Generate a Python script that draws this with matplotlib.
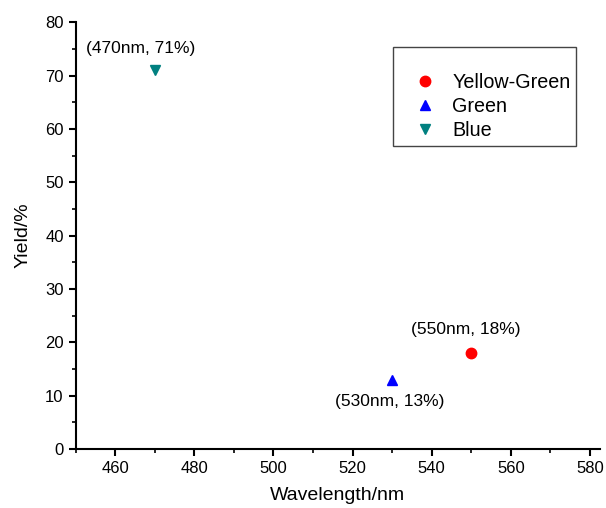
import matplotlib

matplotlib.use("Agg")
import matplotlib.pyplot as plt

# data
series_names = ["Yellow-Green", "Green", "Blue"]
wavelengths = [550, 530, 470]
yields = [18, 13, 71]
marker_styles = ["o", "^", "v"]
marker_colors = ["#ff0000", "#0000ff", "#008080"]
point_labels = ["(550nm, 18%)", "(530nm, 13%)", "(470nm, 71%)"]
label_offsets = [(-6, 24), (-2, -22), (-14, 22)]  # pixels

plt.rcParams.update(
    {
        "font.family": ["Liberation Sans", "DejaVu Sans"],
        "axes.linewidth": 1.5,
        "xtick.major.width": 1.5,
        "ytick.major.width": 1.5,
        "xtick.minor.width": 1.2,
        "ytick.minor.width": 1.2,
        "xtick.major.size": 5,
        "ytick.major.size": 5,
        "xtick.minor.size": 3,
        "ytick.minor.size": 3,
        "xtick.direction": "out",
        "ytick.direction": "out",
    }
)

fig = plt.figure(figsize=(6.06, 5.08), dpi=100)
ax = fig.add_axes([0.1246, 0.1161, 0.8654, 0.8400])

for name, x, y, m, c, lab, off in zip(
    series_names, wavelengths, yields, marker_styles, marker_colors, point_labels, label_offsets
):
    ax.plot([x], [y], linestyle="none", marker=m, color=c, markersize=7.5, label=name)
    ax.annotate(
        lab,
        xy=(x, y),
        xytext=off,
        textcoords="offset pixels",
        ha="center",
        va="center",
        fontsize=12.5,
    )

ax.set_xlim(450, 582.5)
ax.set_ylim(0, 80)
ax.set_xticks(range(460, 581, 20))
ax.set_xticks(range(450, 581, 10), minor=True)
ax.set_yticks(range(0, 81, 10))
ax.set_yticks(range(0, 81, 5), minor=True)
ax.tick_params(labelsize=12)
ax.spines["top"].set_visible(False)
ax.spines["right"].set_visible(False)

ax.set_xlabel("Wavelength/nm", fontsize=14, labelpad=8)
ax.set_ylabel("Yield/%", fontsize=14, labelpad=10)

leg = ax.legend(
    loc="upper left",
    bbox_to_anchor=(393 / 606, 1 - 47 / 508),
    bbox_transform=fig.transFigure,
    fontsize=14.2,
    title=" ",
    title_fontsize=11.5,
    frameon=True,
    fancybox=False,
    handlelength=2.6,
    handletextpad=0.1,
    labelspacing=0.26,
    borderpad=0.3,
    borderaxespad=0,
)
leg.get_frame().set_edgecolor("#444444")
leg.get_frame().set_linewidth(1.0)
leg.get_frame().set_alpha(1)
leg._legend_box.align = "left"

fig.savefig("out.png", dpi=100)
